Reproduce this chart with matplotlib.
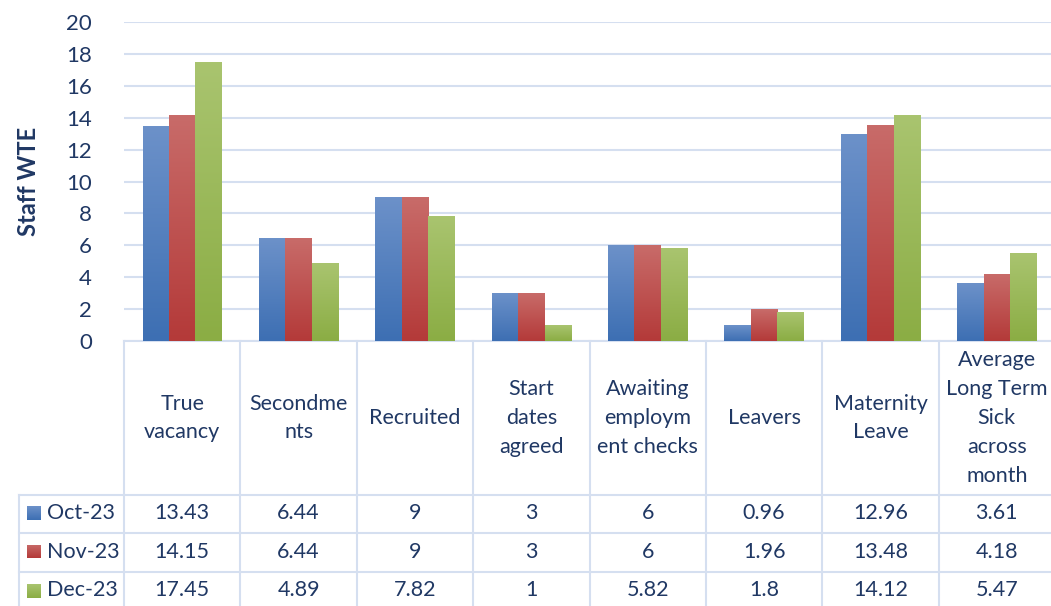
import matplotlib.pyplot as plt
import numpy as np
from matplotlib.colors import LinearSegmentedColormap

plt.rcParams['font.family'] = ['Lato', 'DejaVu Sans']

categories = ["True\nvacancy", "Secondme\nnts", "Recruited", "Start\ndates\nagreed",
              "Awaiting\nemploym\nent checks", "Leavers", "Maternity\nLeave",
              "Average\nLong Term\nSick\nacross\nmonth"]
months = ["Oct-23", "Nov-23", "Dec-23"]
oct23 = [13.43, 6.44, 9, 3, 6, 0.96, 12.96, 3.61]
nov23 = [14.15, 6.44, 9, 3, 6, 1.96, 13.48, 4.18]
dec23 = [17.45, 4.89, 7.82, 1, 5.82, 1.8, 14.12, 5.47]
series = [oct23, nov23, dec23]
yticks = list(range(0, 21, 2))

# (top colour, bottom colour) for each series' gradient fill
shades = [("#6c91c9", "#3d6fb3"), ("#c86b69", "#b43a39"), ("#a9c46f", "#8bad44")]
txt = "#203864"
line = "#d5dff0"

W, H = 1051, 606
fig = plt.figure(figsize=(W / 100, H / 100), dpi=100)


def fx(px):
    return px / W


def fy(py):
    return 1 - py / H


left, right, top, bottom = 124, 1055, 22, 341
ax = fig.add_axes([fx(left), fy(bottom), fx(right - left), (bottom - top) / H])

n = len(categories)
x = np.arange(n)
bw = 0.227
grad = np.linspace(0, 1, 100).reshape(-1, 1)
for i, vals in enumerate(series):
    cmap = LinearSegmentedColormap.from_list("g%d" % i, [shades[i][1], shades[i][0]])
    bars = ax.bar(x + (i - 1) * bw, vals, bw, color="none", zorder=3)
    for b in bars:
        x0, w, h = b.get_x(), b.get_width(), b.get_height()
        ax.imshow(grad, cmap=cmap, origin="lower", aspect="auto",
                  extent=[x0, x0 + w, 0, h], zorder=3)

ax.set_xlim(-0.5, n - 0.5)
ax.set_ylim(0, 20)
ax.set_yticks(yticks)
ax.set_xticks([])
ax.tick_params(axis="y", length=0, pad=23, labelsize=16, labelcolor=txt)
ax.yaxis.grid(True, color=line, lw=1.5, zorder=0)
for s in ["top", "right", "left"]:
    ax.spines[s].set_visible(False)
ax.spines["bottom"].set_color(line)
ax.spines["bottom"].set_linewidth(1.5)
ax.set_ylabel("Staff WTE", fontsize=17, fontweight="bold", color=txt, labelpad=19)

# data table under the plot
cw = (right - left) / n
row_tops = [495, 533, 572, 611]
lw = 1.5
for k in range(n + 1):
    xx = left + k * cw
    fig.add_artist(plt.Line2D([fx(xx)] * 2, [fy(bottom), fy(H + 5)], color=line, lw=lw))
fig.add_artist(plt.Line2D([fx(19)] * 2, [fy(row_tops[0]), fy(H + 5)], color=line, lw=lw))
for ry in row_tops:
    fig.add_artist(plt.Line2D([fx(19), fx(right)], [fy(ry)] * 2, color=line, lw=lw))

for k, c in enumerate(categories):
    fig.text(fx(left + (k + 0.5) * cw), fy(418), c, ha="center", va="center",
             fontsize=15.5, color=txt, linespacing=1.55)

for i, vals in enumerate(series):
    cy = (row_tops[i] + row_tops[i + 1]) / 2 - 1
    sw = fig.add_axes([fx(27), fy(cy + 7), fx(14), 14 / H])
    cmap = LinearSegmentedColormap.from_list("s%d" % i, [shades[i][1], shades[i][0]])
    sw.imshow(grad, cmap=cmap, origin="lower", aspect="auto")
    sw.set_axis_off()
    fig.text(fx(47), fy(cy), months[i], ha="left", va="center", fontsize=15.5, color=txt)
    for k, v in enumerate(vals):
        fig.text(fx(left + (k + 0.5) * cw), fy(cy), "%g" % v, ha="center", va="center",
                 fontsize=15.5, color=txt)

fig.savefig("out.png", dpi=100)
